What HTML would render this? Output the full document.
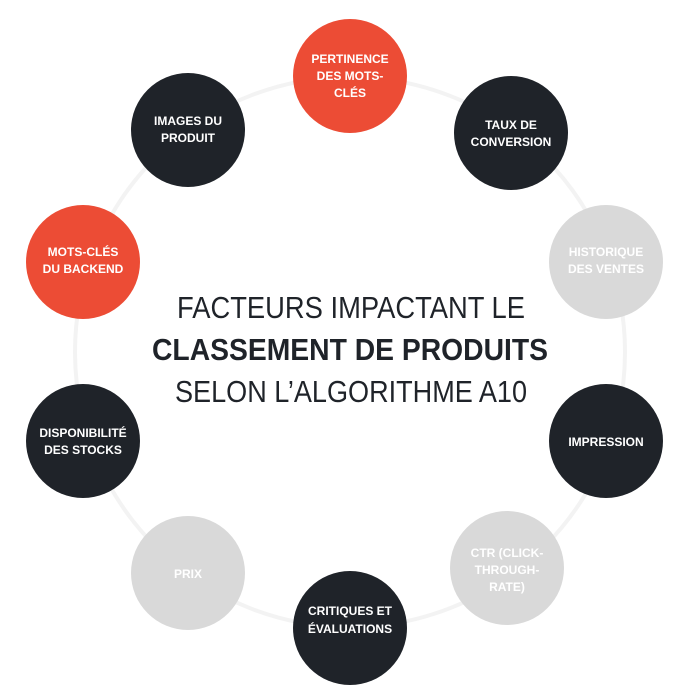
<!DOCTYPE html>
<html><head><meta charset="utf-8"><style>
html,body{margin:0;padding:0;background:#fff;}
svg{display:block;}
.l{font-family:"Liberation Sans",sans-serif;font-weight:bold;font-size:12px;fill:#fff;text-anchor:middle;}
.t{font-family:"Liberation Sans",sans-serif;font-size:31px;fill:#1f2329;text-anchor:middle;}
</style></head><body>
<svg width="700" height="700" viewBox="0 0 700 700">
<circle cx="350" cy="352" r="275" fill="none" stroke="#f3f3f3" stroke-width="4"/>
<circle cx="350" cy="76" r="57" fill="#ec4c35"/>
<circle cx="511" cy="133" r="57" fill="#1f2329"/>
<circle cx="606" cy="262" r="57" fill="#d9d9d9"/>
<circle cx="606" cy="441" r="57" fill="#1f2329"/>
<circle cx="507" cy="568" r="57" fill="#d9d9d9"/>
<circle cx="350" cy="628" r="57" fill="#1f2329"/>
<circle cx="188" cy="573" r="57" fill="#d9d9d9"/>
<circle cx="83" cy="441" r="57" fill="#1f2329"/>
<circle cx="83" cy="262" r="57" fill="#ec4c35"/>
<circle cx="188" cy="130" r="57" fill="#1f2329"/>

<text class="l" x="350" y="63">PERTINENCE</text>
<text class="l" x="350" y="80">DES MOTS-</text>
<text class="l" x="350" y="97">CLÉS</text>
<text class="l" x="511" y="129">TAUX DE</text>
<text class="l" x="511" y="146">CONVERSION</text>
<text class="l" x="606" y="256">HISTORIQUE</text>
<text class="l" x="606" y="273">DES VENTES</text>
<text class="l" x="606" y="446">IMPRESSION</text>
<text class="l" x="507" y="557">CTR (CLICK-</text>
<text class="l" x="507" y="574">THROUGH-</text>
<text class="l" x="507" y="591">RATE)</text>
<text class="l" x="350" y="615">CRITIQUES ET</text>
<text class="l" x="350" y="633">ÉVALUATIONS</text>
<text class="l" x="188" y="578">PRIX</text>
<text class="l" x="83" y="437">DISPONIBILITÉ</text>
<text class="l" x="83" y="454">DES STOCKS</text>
<text class="l" x="83" y="256">MOTS-CLÉS</text>
<text class="l" x="83" y="273">DU BACKEND</text>
<text class="l" x="188" y="125">IMAGES DU</text>
<text class="l" x="188" y="142">PRODUIT</text>

<text class="t" x="351" y="318" textLength="348" lengthAdjust="spacingAndGlyphs">FACTEURS IMPACTANT LE</text>
<text class="t" x="350" y="360" font-weight="bold" textLength="396" lengthAdjust="spacingAndGlyphs">CLASSEMENT DE PRODUITS</text>
<text class="t" x="351" y="402" textLength="352" lengthAdjust="spacingAndGlyphs">SELON L’ALGORITHME A10</text>
</svg>
</body></html>
